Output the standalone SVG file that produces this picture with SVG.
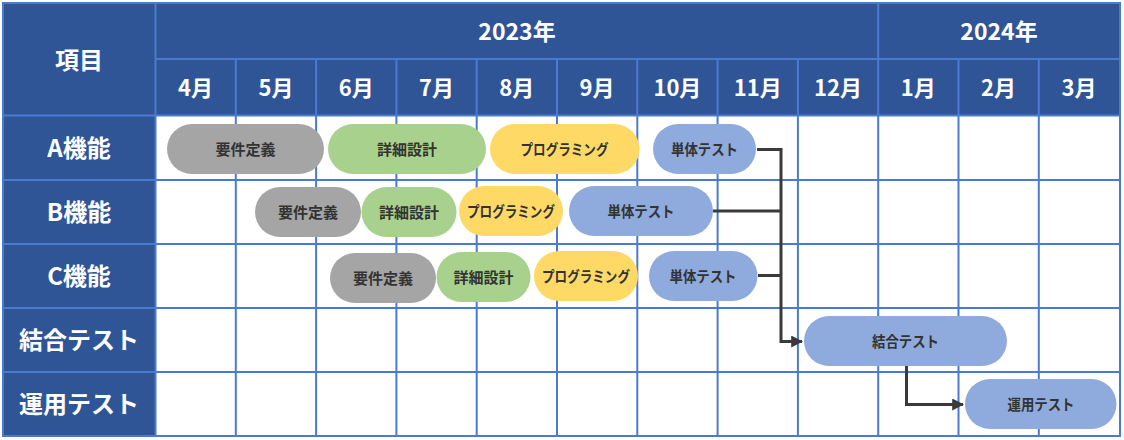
<svg xmlns="http://www.w3.org/2000/svg" width="1124" height="440" viewBox="0 0 1124 440">
<defs>
<style>
.hdr{fill:#2F5597}
.cell{fill:#FFFFFF}
.grid{stroke:#4A7BD0;stroke-width:2;fill:none}
.ht{fill:#FFFFFF;font-family:"Noto Sans CJK JP","Noto Sans",sans-serif;font-weight:bold;text-anchor:middle;dominant-baseline:central}
.pt{fill:#333333;font-family:"Noto Sans CJK JP","Noto Sans",sans-serif;font-weight:bold;font-size:15px;text-anchor:middle;dominant-baseline:central}
.gray{fill:#A5A5A5}
.green{fill:#A9D18E}
.yellow{fill:#FFD966}
.blue{fill:#8FAADC}
.conn{stroke:#3A3A3A;stroke-width:3;fill:none}
</style>
<marker id="arr" viewBox="0 0 10 10" refX="9" refY="5" markerWidth="4" markerHeight="4" markerUnits="strokeWidth" orient="auto">
<path d="M0,0 L10,5 L0,10 Z" fill="#3A3A3A"/>
</marker>
</defs>
<g id="table">
<rect x="3" y="3" width="1117" height="433" class="cell"/>
<rect x="3" y="3" width="1117" height="112.5" class="hdr"/>
<rect x="3" y="115.5" width="152.5" height="320.5" class="hdr"/>
<g class="grid">
<rect x="3" y="3" width="1117" height="433"/>
<line x1="155.5" y1="3" x2="155.5" y2="436"/>
<line x1="878.2" y1="3" x2="878.2" y2="59"/>
<line x1="155.5" y1="59" x2="1120" y2="59"/>
<line x1="3" y1="115.5" x2="1120" y2="115.5"/>
<line x1="3" y1="180" x2="1120" y2="180"/>
<line x1="3" y1="244" x2="1120" y2="244"/>
<line x1="3" y1="308" x2="1120" y2="308"/>
<line x1="3" y1="372" x2="1120" y2="372"/>
<line x1="235.8" y1="59" x2="235.8" y2="436"/>
<line x1="316.1" y1="59" x2="316.1" y2="436"/>
<line x1="396.4" y1="59" x2="396.4" y2="436"/>
<line x1="476.7" y1="59" x2="476.7" y2="436"/>
<line x1="557" y1="59" x2="557" y2="436"/>
<line x1="637.3" y1="59" x2="637.3" y2="436"/>
<line x1="717.6" y1="59" x2="717.6" y2="436"/>
<line x1="797.9" y1="59" x2="797.9" y2="436"/>
<line x1="878.2" y1="59" x2="878.2" y2="436"/>
<line x1="958.5" y1="59" x2="958.5" y2="436"/>
<line x1="1038.8" y1="59" x2="1038.8" y2="436"/>
</g>
<text class="ht" x="79" y="58" font-size="24">項目</text>
<text class="ht" x="517" y="30" font-size="23">2023年</text>
<text class="ht" x="999" y="30" font-size="23">2024年</text>
<g font-size="22">
<text class="ht" x="195.6" y="86">4月</text>
<text class="ht" x="276" y="86">5月</text>
<text class="ht" x="356.2" y="86">6月</text>
<text class="ht" x="436.5" y="86">7月</text>
<text class="ht" x="516.8" y="86">8月</text>
<text class="ht" x="597.1" y="86">9月</text>
<text class="ht" x="677.4" y="86">10月</text>
<text class="ht" x="757.7" y="86">11月</text>
<text class="ht" x="838" y="86">12月</text>
<text class="ht" x="918.3" y="86">1月</text>
<text class="ht" x="998.6" y="86">2月</text>
<text class="ht" x="1078.9" y="86">3月</text>
</g>
<g font-size="24">
<text class="ht" x="79" y="146">A機能</text>
<text class="ht" x="79" y="210">B機能</text>
<text class="ht" x="79" y="274">C機能</text>
<text class="ht" x="79" y="338">結合テスト</text>
<text class="ht" x="79" y="402">運用テスト</text>
</g>
</g>
<g id="connectors">
<polyline class="conn" points="757,149.5 781,149.5 781,341.5 802,341.5" marker-end="url(#arr)"/>
<line class="conn" x1="713" y1="211" x2="781" y2="211"/>
<line class="conn" x1="758" y1="275.5" x2="781" y2="275.5"/>
<polyline class="conn" points="906.5,366 906.5,404.5 963,404.5" marker-end="url(#arr)"/>
</g>
<g id="A-req"><rect class="gray" x="167" y="124" width="157" height="50" rx="25"/><text class="pt" x="245.5" y="148">要件定義</text></g>
<g id="A-design"><rect class="green" x="328" y="124" width="158" height="50" rx="25"/><text class="pt" x="407" y="148">詳細設計</text></g>
<g id="A-prog"><rect class="yellow" x="490" y="124" width="149.5" height="50" rx="25"/><text class="pt" x="564.5" y="148" textLength="88" lengthAdjust="spacingAndGlyphs">プログラミング</text></g>
<g id="A-unit"><rect class="blue" x="653" y="124" width="103" height="50" rx="25"/><text class="pt" x="704.5" y="148" textLength="67" lengthAdjust="spacingAndGlyphs">単体テスト</text></g>
<g id="B-req"><rect class="gray" x="255" y="187" width="106" height="50" rx="25"/><text class="pt" x="308" y="211">要件定義</text></g>
<g id="B-design"><rect class="green" x="361.5" y="187" width="95" height="50" rx="25"/><text class="pt" x="409" y="211">詳細設計</text></g>
<g id="B-prog"><rect class="yellow" x="459" y="186" width="104" height="50" rx="25"/><text class="pt" x="511" y="210" textLength="88" lengthAdjust="spacingAndGlyphs">プログラミング</text></g>
<g id="B-unit"><rect class="blue" x="569" y="186" width="144" height="50" rx="25"/><text class="pt" x="641" y="210" textLength="67" lengthAdjust="spacingAndGlyphs">単体テスト</text></g>
<g id="C-req"><rect class="gray" x="330" y="253" width="106" height="50" rx="25"/><text class="pt" x="383" y="277">要件定義</text></g>
<g id="C-design"><rect class="green" x="436.5" y="252" width="94" height="50" rx="25"/><text class="pt" x="483.5" y="276">詳細設計</text></g>
<g id="C-prog"><rect class="yellow" x="534" y="251" width="104" height="50" rx="25"/><text class="pt" x="586" y="275" textLength="88" lengthAdjust="spacingAndGlyphs">プログラミング</text></g>
<g id="C-unit"><rect class="blue" x="649" y="251" width="108.5" height="50" rx="25"/><text class="pt" x="703" y="275" textLength="67" lengthAdjust="spacingAndGlyphs">単体テスト</text></g>
<g id="integration"><rect class="blue" x="804" y="316" width="203" height="50" rx="25"/><text class="pt" x="905.5" y="340" textLength="67" lengthAdjust="spacingAndGlyphs">結合テスト</text></g>
<g id="operation"><rect class="blue" x="965" y="379" width="151.5" height="50" rx="25"/><text class="pt" x="1041" y="403" textLength="67" lengthAdjust="spacingAndGlyphs">運用テスト</text></g>
</svg>
